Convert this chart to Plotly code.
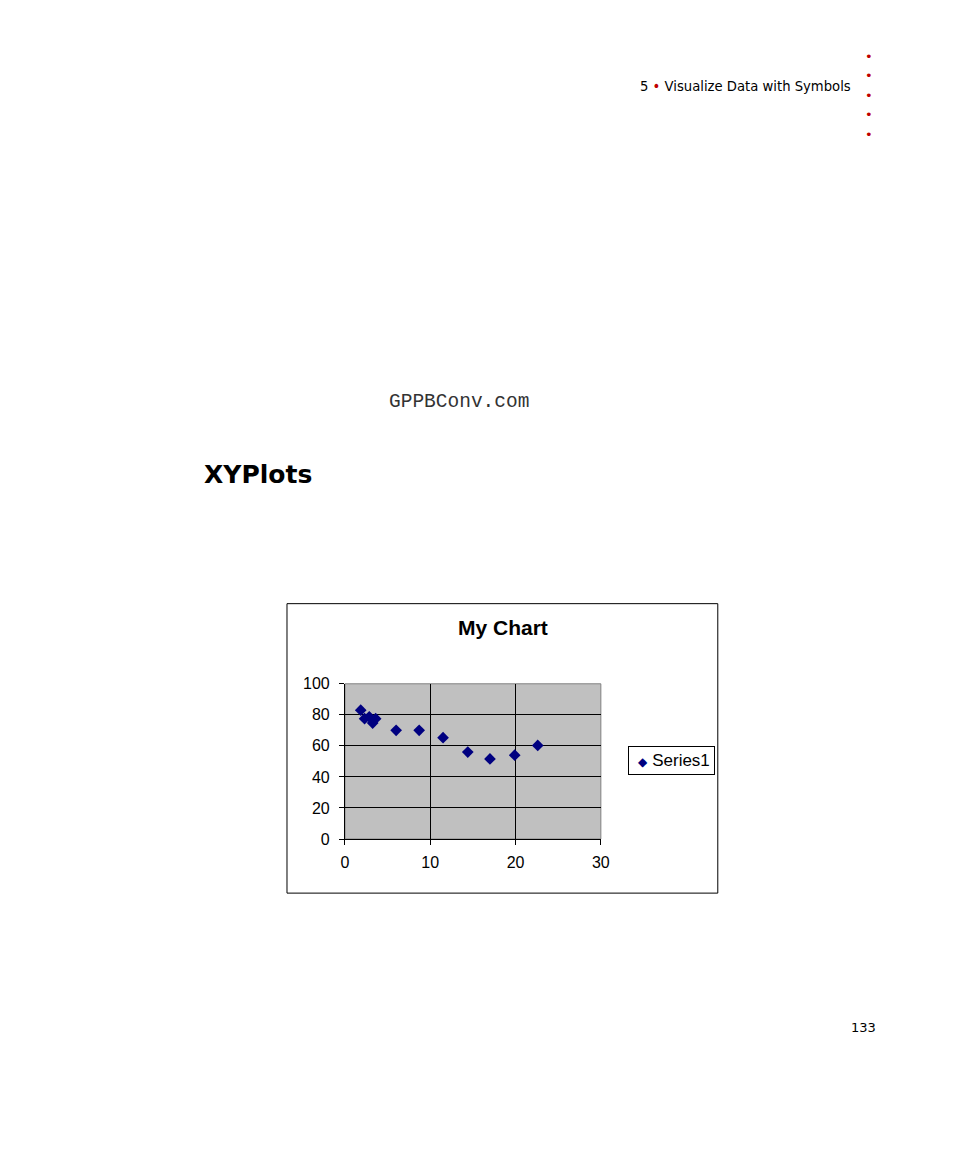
import plotly.graph_objects as go

# data
x_vals = [1.85, 2.3, 2.85, 3.25, 3.6, 6.0, 8.7, 11.5, 14.4, 17.0, 19.9, 22.6]
y_vals = [83.0, 77.5, 78.7, 74.7, 77.5, 70.0, 70.0, 65.3, 56.0, 51.6, 54.0, 60.3]
series_name = "Series1"
x_ticks = [0, 10, 20, 30]
y_ticks = [0, 20, 40, 60, 80, 100]

# page body keeps its default 8px margin; the snapshot comes out slightly shrunk,
# so reference pixel positions are mapped back through that
OFF = 8
W, H = 900, 1100
SX, BX = 0.986, 4.0
SY, BY = 0.983, 9.4

def px(x):
    return ((x - BX) / SX - OFF) / W

def py(y):
    return 1 - ((y - BY) / SY - OFF) / H

fig = go.Figure()
fig.add_trace(go.Scatter(
    x=x_vals, y=y_vals, mode="markers", name=series_name,
    marker=dict(symbol="diamond", size=9, color="#000080"),
    showlegend=False,
))

axis_font = dict(family="Liberation Sans, Arial", size=16, color="black")

fig.update_layout(
    width=W, height=H, autosize=False,
    margin=dict(l=0, r=0, t=0, b=0),
    paper_bgcolor="white",
    plot_bgcolor="#c0c0c0",
    xaxis=dict(
        domain=[px(345), px(601)], range=[0, 30],
        tickvals=x_ticks, showgrid=True, gridcolor="black", gridwidth=1,
        showline=True, linecolor="black", linewidth=1,
        ticks="outside", ticklen=5, tickcolor="black", ticklabelstandoff=4,
        zeroline=False, tickfont=axis_font, fixedrange=True,
    ),
    yaxis=dict(
        domain=[py(839), py(684)], range=[0, 100],
        tickvals=y_ticks, showgrid=True, gridcolor="black", gridwidth=1,
        showline=True, linecolor="black", linewidth=1,
        ticks="outside", ticklen=5, tickcolor="black", ticklabelstandoff=6,
        zeroline=False, tickfont=axis_font, fixedrange=True,
    ),
)

# chart frame and plot-area border
fig.add_shape(type="rect", xref="paper", yref="paper",
              x0=px(287), x1=px(718), y0=py(893), y1=py(604),
              line=dict(color="black", width=1), layer="below")
fig.add_shape(type="rect", xref="x domain", yref="y domain",
              x0=0, x1=1, y0=0, y1=1,
              line=dict(color="#808080", width=1), layer="below")

# chart title
fig.add_annotation(text="<b>My Chart</b>", xref="paper", yref="paper",
                   x=px(503), y=py(628), xanchor="center", yanchor="middle",
                   showarrow=False,
                   font=dict(family="Liberation Sans, Arial", size=21, color="black"))

# legend box
fig.add_annotation(
    text="&nbsp;&nbsp;<span style='color:#000080;font-size:12px'>◆</span> " + series_name,
    xref="paper", yref="paper", x=px(628), y=py(761),
    xanchor="left", yanchor="middle", showarrow=False,
    width=85, height=27, align="left", valign="middle",
    bgcolor="white", bordercolor="black", borderwidth=1, borderpad=0,
    font=dict(family="Liberation Sans, Arial", size=17, color="black"))

# page texts
fig.add_annotation(text="5 <span style='color:#c00000'>•</span> Visualize Data with Symbols",
                   xref="paper", yref="paper", x=px(853), y=py(88),
                   xanchor="right", yanchor="middle", showarrow=False,
                   font=dict(family="DejaVu Sans", size=13.2, color="black"))
for dy in [58, 77, 97, 116, 136]:
    fig.add_annotation(text="•", xref="paper", yref="paper", x=px(869), y=py(dy),
                       xanchor="center", yanchor="middle", showarrow=False,
                       font=dict(family="DejaVu Sans", size=13, color="#c00000"))
fig.add_annotation(text="GPPBConv.com", xref="paper", yref="paper",
                   x=px(387), y=py(403), xanchor="left", yanchor="middle", showarrow=False,
                   font=dict(family="Liberation Mono, Courier New", size=19.5, color="#333333"))
fig.add_annotation(text="<b>XYPlots</b>", xref="paper", yref="paper",
                   x=px(202), y=py(475), xanchor="left", yanchor="middle", showarrow=False,
                   font=dict(family="DejaVu Sans", size=25, color="black"))
fig.add_annotation(text="133", xref="paper", yref="paper",
                   x=px(878), y=py(1027), xanchor="right", yanchor="middle", showarrow=False,
                   font=dict(family="DejaVu Sans", size=13, color="black"))

fig.write_html("out.html")
